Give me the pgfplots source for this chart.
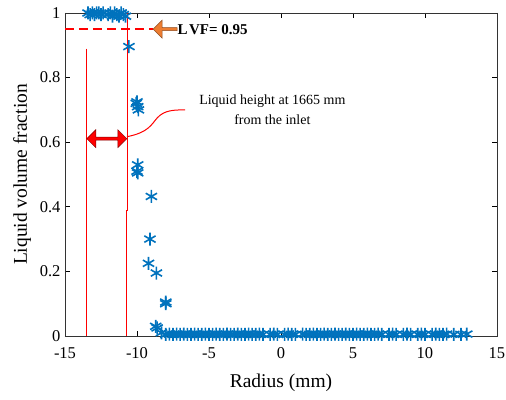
\documentclass[border=0pt]{standalone}
\usepackage{pgfplots}
\pgfplotsset{compat=1.18}
\usepackage{fontspec}
\setmainfont{Liberation Serif}
\usetikzlibrary{arrows.meta,shapes.arrows,calc}
\definecolor{mblue}{RGB}{0,114,189}
\definecolor{morange}{RGB}{237,125,49}
\begin{document}
\begin{tikzpicture}
\begin{axis}[
  scale only axis, width=432pt, height=323pt,
  xmin=-15, xmax=15, ymin=0, ymax=1,
  xtick={-15,-10,...,15}, ytick={0,0.2,...,1},
  /pgf/number format/assume math mode=true,
  tick label style={font=\fontsize{16.5}{18}\selectfont},
  xticklabel style={yshift=-8pt},
  yticklabel style={xshift=-1pt},
  xlabel={Radius (mm)}, ylabel={Liquid volume fraction},
  label style={font=\fontsize{19.5}{22}\selectfont},
  xlabel style={at={(axis description cs:0.5,0)}, anchor=center, yshift=-47pt},
  ylabel style={at={(axis description cs:0,0.5)}, anchor=center, rotate=0, yshift=43pt},
  tick align=inside, major tick length=5pt,
  ticklabel style={/pgf/number format/fixed},
  axis line style={line width=0.9pt, black!80}, tick style={line width=0.7pt, black},
  clip=false,
]
\coordinate (bl) at (rel axis cs:0,0);
\coordinate (tr) at (rel axis cs:1,1);
\addplot[only marks, mark=asterisk, mark size=6.5pt, mblue, line width=1.6pt] coordinates {
(-13.4,1.0)(-13.25,0.995)(-13.1,1.0)(-12.95,0.995)(-12.8,1.0)(-12.65,1.0)(-12.5,0.995)(-12.35,1.0)
(-12.0,0.995)(-11.85,1.0)(-11.7,0.99)(-11.55,1.0)(-11.4,0.995)(-11.25,0.99)(-11.1,1.0)(-10.95,0.995)(-10.8,0.99)
(-10.56,0.896)
(-10.05,0.72)(-9.95,0.71)(-9.9,0.70)(-10.0,0.725)
(-9.95,0.53)(-10.0,0.51)(-9.95,0.505)
(-9.0,0.432)(-9.1,0.30)(-9.2,0.225)(-8.65,0.195)(-8.0,0.10)(-8.0,0.105)(-8.7,0.03)(-8.6,0.025)
(-8.3,0.01)(-8.0,0.005)(-7.75,0.006)(-7.5,0.005)(-7.25,0.006)(-7.0,0.005)(-6.75,0.006)(-6.5,0.005)
(-6.25,0.005)(-6.0,0.006)(-5.75,0.005)(-5.5,0.005)(-5.25,0.006)(-5.0,0.005)(-4.75,0.005)(-4.5,0.006)
(-4.25,0.005)(-4.0,0.005)(-3.75,0.006)(-3.5,0.005)(-3.25,0.005)(-3.0,0.006)(-2.75,0.005)(-2.5,0.005)
(-2.25,0.006)(-2.0,0.005)(-1.75,0.005)(-1.5,0.006)(-1.25,0.005)(-0.75,0.005)(-0.5,0.006)(-0.25,0.005)
(0.25,0.005)(0.5,0.006)(0.75,0.005)(1.0,0.005)(1.5,0.006)(1.75,0.005)(2.0,0.005)(2.25,0.006)
(2.5,0.005)(2.75,0.005)(3.0,0.006)(3.25,0.005)(3.5,0.005)(3.75,0.006)(4.0,0.005)(4.25,0.005)
(4.5,0.006)(4.75,0.005)(5.0,0.005)(5.25,0.006)(5.5,0.005)(5.75,0.005)(6.0,0.006)(6.25,0.005)
(6.5,0.005)(6.75,0.006)(7.0,0.005)(7.5,0.005)(7.75,0.006)(8.0,0.005)(8.5,0.005)(8.75,0.006)
(9.0,0.005)(9.5,0.005)(9.75,0.006)(10.0,0.005)(10.5,0.005)(10.75,0.006)(11.0,0.005)(11.25,0.005)
(11.5,0.006)(12.0,0.005)(12.5,0.005)(12.9,0.006)
};
% annotations
\draw[red, line width=0.8pt] (axis cs:-13.54,0.89) -- (axis cs:-13.54,0);
\draw[red, line width=0.8pt] (axis cs:-10.7,1) -- (axis cs:-10.7,0.39) -- (axis cs:-10.75,0.39) -- (axis cs:-10.75,0);
\draw[red, line width=2.2pt, dash pattern=on 9pt off 5pt] (axis cs:-15,0.95) -- (axis cs:-8.9,0.95);
\node[single arrow, shape border rotate=180, fill=morange, draw=morange!60!black, line width=0.5pt, minimum height=24pt, minimum width=18pt, single arrow head extend=3.5pt, single arrow head indent=0pt, inner sep=0.5pt, anchor=tip] at (axis cs:-8.9,0.95) {};
\node[anchor=west, inner sep=0pt, font=\bfseries\fontsize{15}{17}\selectfont] at (axis cs:-7.2,0.948) {L\kern1.5pt VF= 0.95};
\node[double arrow, fill=red, draw=red!50!black, line width=0.5pt, minimum height=40pt, minimum width=18pt, double arrow head extend=3.5pt, inner sep=0.5pt] at (axis cs:-12.1,0.611) {};
\draw[red, line width=1pt] (axis cs:-10.7,0.617) .. controls (axis cs:-9.2,0.63) and (axis cs:-9.0,0.655) .. (axis cs:-8.6,0.675) .. controls (axis cs:-8.1,0.70) and (axis cs:-7.4,0.70) .. (axis cs:-6.65,0.70);
\node[align=center, font=\fontsize{14}{20}\selectfont] at (axis cs:-0.6,0.701) {Liquid height at 1665 mm\\from the inlet};
\end{axis}
\pgfresetboundingbox
\path[use as bounding box] ($(bl)+(-65pt,-63pt)$) rectangle ($(tr)+(9pt,13pt)$);
\end{tikzpicture}
\end{document}
